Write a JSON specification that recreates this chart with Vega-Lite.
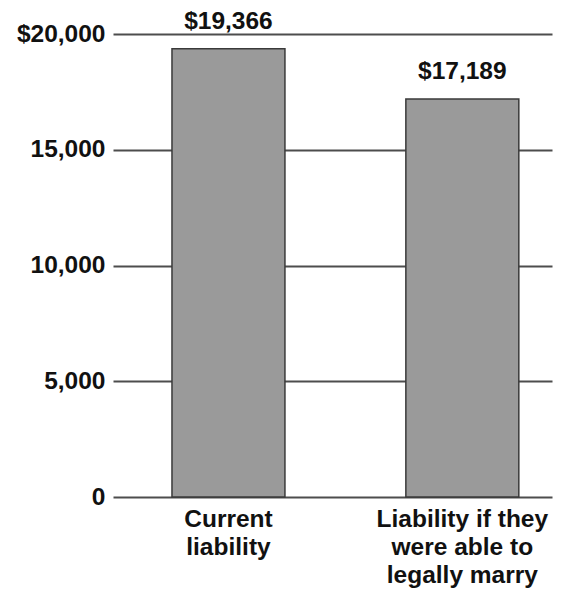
{
  "$schema": "https://vega.github.io/schema/vega-lite/v6.json",
  "width": 439,
  "height": 463,
  "autosize": {"type": "none"},
  "padding": {"left": 113, "top": 34, "right": 13, "bottom": 103},
  "background": "white",
  "config": {"view": {"stroke": null}, "font": "Liberation Sans"},
  "data": {
    "values": [
      {"category": "Current liability", "liability": 19366},
      {"category": "Liability if they were able to legally marry", "liability": 17189}
    ]
  },
  "encoding": {
    "x": {
      "field": "category",
      "type": "nominal",
      "sort": null,
      "scale": {"paddingInner": 0.517, "paddingOuter": 0.197, "align": 0.64},
      "axis": {
        "title": null,
        "domain": false,
        "ticks": false,
        "tickSize": 0,
        "grid": false,
        "labelAngle": 0,
        "labelFontSize": 24.5,
        "labelFontWeight": "bold",
        "labelColor": "#111",
        "labelLineHeight": 28,
        "labelPadding": 10,
        "labelExpr": "datum.value == 'Current liability' ? ['Current', 'liability'] : ['Liability if they', 'were able to', 'legally marry']"
      }
    },
    "y": {
      "field": "liability",
      "type": "quantitative",
      "scale": {"domain": [0, 20000], "nice": false},
      "axis": {
        "title": null,
        "domain": false,
        "ticks": false,
        "tickSize": 0,
        "grid": true,
        "gridColor": "#4d4d4d",
        "gridWidth": 2,
        "values": [0, 5000, 10000, 15000, 20000],
        "labelExpr": "datum.value == 20000 ? '$20,000' : format(datum.value, ',')",
        "labelFontSize": 24.5,
        "labelFontWeight": "bold",
        "labelColor": "#111",
        "labelPadding": 8
      }
    }
  },
  "layer": [
    {
      "mark": {"type": "bar", "color": "#9a9a9a", "stroke": "#3a3a3a", "strokeWidth": 1.5}
    },
    {
      "mark": {
        "type": "text",
        "baseline": "bottom",
        "dy": -15,
        "fontSize": 24.5,
        "fontWeight": "bold",
        "color": "#111"
      },
      "encoding": {
        "text": {"field": "liability", "type": "quantitative", "format": "$,d"}
      }
    }
  ]
}
